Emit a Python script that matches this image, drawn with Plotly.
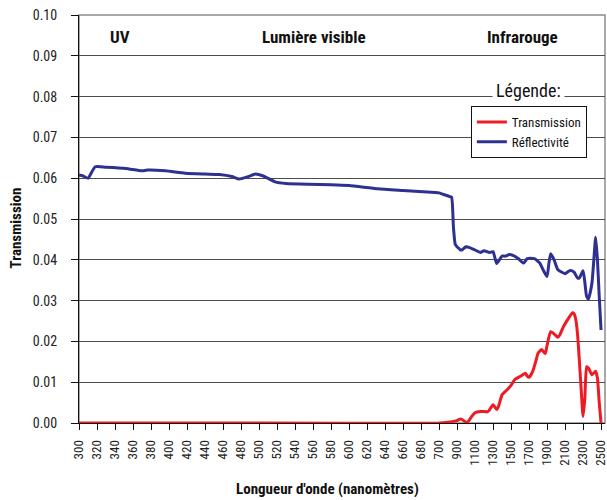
import plotly.graph_objects as go

# Category axis: 2 nm steps in UV/visible, 20 nm steps in infrared
categories = [str(w) for w in list(range(300, 700, 2)) + list(range(700, 2501, 20))]
tick_labels = [str(w) for w in list(range(300, 701, 20)) + list(range(900, 2501, 200))]

refl_wl = [300, 304, 310, 318, 330, 352, 370, 376, 396, 418, 440, 456, 470, 478, 488, 496,
           504, 518, 530, 554, 580, 600, 632, 660, 696, 700, 740, 780, 820, 840, 860, 880,
           900, 920, 940, 960, 1000, 1040, 1080, 1120, 1160, 1200, 1260, 1300, 1340, 1400,
           1440, 1480, 1520, 1580, 1640, 1680, 1760, 1800, 1820, 1860, 1900, 1920, 1940,
           1960, 1980, 2020, 2060, 2100, 2140, 2160, 2200, 2240, 2260, 2300, 2320, 2340,
           2360, 2380, 2400, 2420, 2440, 2460, 2480, 2500]
refl_val = [0.0608, 0.0606, 0.0600, 0.0628, 0.0627, 0.0624, 0.0618, 0.0620, 0.0618, 0.0612,
            0.0610, 0.0609, 0.0604, 0.0598, 0.0604, 0.0610, 0.0606, 0.0591, 0.0587, 0.0585,
            0.0584, 0.0582, 0.0574, 0.0570, 0.0565, 0.0564, 0.0561, 0.0558, 0.0555, 0.0553,
            0.0480, 0.0438, 0.0432, 0.0428, 0.0424, 0.0425, 0.0432, 0.0430, 0.0426, 0.0422,
            0.0418, 0.0422, 0.0418, 0.0420, 0.0391, 0.0409, 0.0409, 0.0413, 0.0411, 0.0403,
            0.0392, 0.0403, 0.0403, 0.0396, 0.0392, 0.0374, 0.0359, 0.0390, 0.0415, 0.0408,
            0.0399, 0.0376, 0.0370, 0.0366, 0.0372, 0.0374, 0.0370, 0.0355, 0.0356, 0.0373,
            0.0345, 0.0310, 0.0304, 0.0320, 0.0345, 0.0400, 0.0455, 0.0400, 0.0310, 0.0228]

trans_wl = [300, 500, 700, 800, 860, 900, 940, 960, 1000, 1020, 1060, 1100, 1160, 1240, 1260,
            1300, 1340, 1360, 1400, 1460, 1500, 1540, 1600, 1660, 1680, 1700, 1740, 1780,
            1800, 1840, 1880, 1900, 1940, 1980, 2020, 2040, 2080, 2140, 2180, 2200, 2220,
            2240, 2260, 2280, 2300, 2320, 2340, 2360, 2400, 2440, 2460, 2480, 2500]
trans_val = [0.0, 0.0, 0.0, 0.0002, 0.0004, 0.0006, 0.0010, 0.0008, 0.0002, 0.0003, 0.0015,
             0.0025, 0.0028, 0.0028, 0.0032, 0.0045, 0.0033, 0.0040, 0.0069, 0.0082, 0.0092,
             0.0106, 0.0114, 0.0122, 0.0115, 0.0112, 0.0126, 0.0155, 0.0171, 0.0180, 0.0170,
             0.0190, 0.0224, 0.0218, 0.0210, 0.0215, 0.0235, 0.0257, 0.0270, 0.0268, 0.0253,
             0.0215, 0.0150, 0.0080, 0.0016, 0.0060, 0.0138, 0.0135, 0.0118, 0.0127, 0.0110,
             0.0050, 0.0]

FONT = "Roboto Condensed, Roboto, sans-serif"
TXT = "#111111"

fig = go.Figure()
fig.add_trace(go.Scatter(x=[str(w) for w in trans_wl], y=trans_val, mode="lines",
                         name="Transmission",
                         line=dict(color="#ed1c24", width=3, shape="spline", smoothing=0.5)))
fig.add_trace(go.Scatter(x=[str(w) for w in refl_wl], y=refl_val, mode="lines",
                         name="Réflectivité",
                         line=dict(color="#2e3192", width=3, shape="spline", smoothing=0.5)))

# plot frame (grey) and region separators
fig.add_shape(type="rect", xref="paper", yref="paper", x0=0, x1=1, y0=0, y1=1,
              line=dict(color="#8c8c8c", width=1.5), layer="below")
for sep in ["400", "700"]:
    fig.add_shape(type="line", xref="x", yref="paper", x0=sep, x1=sep, y0=0, y1=1,
                  line=dict(color="#111111", width=1), layer="below")

def note(text, x, y, size, angle=0, bg=None, pad=1):
    fig.add_annotation(text=text, x=x, y=y, xref="paper", yref="paper",
                       xanchor="center", yanchor="middle", textangle=angle,
                       showarrow=False, bgcolor=bg, borderpad=pad,
                       font=dict(family=FONT, size=size, color=TXT))

note("<b>UV</b>", 0.078, 0.945, 17)
note("<b>Lumière visible</b>", 0.447, 0.945, 17)
note("<b>Infrarouge</b>", 0.844, 0.945, 17)
note("Légende:", 0.854, 0.815, 18, bg="white", pad=3)
note("<b>Longueur d'onde (nanomètres)</b>", 0.473, -0.162, 15)
note("<b>Transmission</b>", -0.1207, 0.478, 15, angle=-90)

fig.update_layout(
    width=607, height=500,
    margin=dict(l=79, r=2, t=15, b=77),
    paper_bgcolor="white", plot_bgcolor="white",
    font=dict(family=FONT, size=13, color="#222222"),
    showlegend=True,
    legend=dict(x=0.745, y=0.777, xanchor="left", yanchor="top",
                bgcolor="white", bordercolor="#111111", borderwidth=1,
                font=dict(family=FONT, size=13, color=TXT),
                itemwidth=30, tracegroupgap=0),
    xaxis=dict(type="category", categoryorder="array", categoryarray=categories,
               range=[0, 292.2], tickmode="array", tickvals=tick_labels, ticktext=tick_labels,
               tickangle=-90, ticks="outside", ticklen=6, tickcolor="#111111",
               ticklabelstandoff=5, ticklabeloverflow="allow", automargin=False,
               showline=True, linecolor="#111111", linewidth=1, showgrid=False,
               layer="below traces", tickfont=dict(family=FONT, size=13, color="#222222")),
    yaxis=dict(range=[0, 0.1], dtick=0.01, tickformat=".2f",
               ticks="outside", ticklen=7, tickcolor="#111111",
               ticklabelstandoff=11, ticklabeloverflow="allow", automargin=False,
               showline=True, linecolor="#111111", linewidth=1,
               showgrid=True, gridcolor="#4d4d4d", gridwidth=1.2, zeroline=False,
               tickfont=dict(family=FONT, size=14, color="#222222")),
)

# remove the default page margin so the 607x500 figure fills the window exactly
fig.write_html("out.html", config={"displayModeBar": False},
               post_script="document.body.style.margin='0';"
                           "document.body.style.overflow='hidden';")
